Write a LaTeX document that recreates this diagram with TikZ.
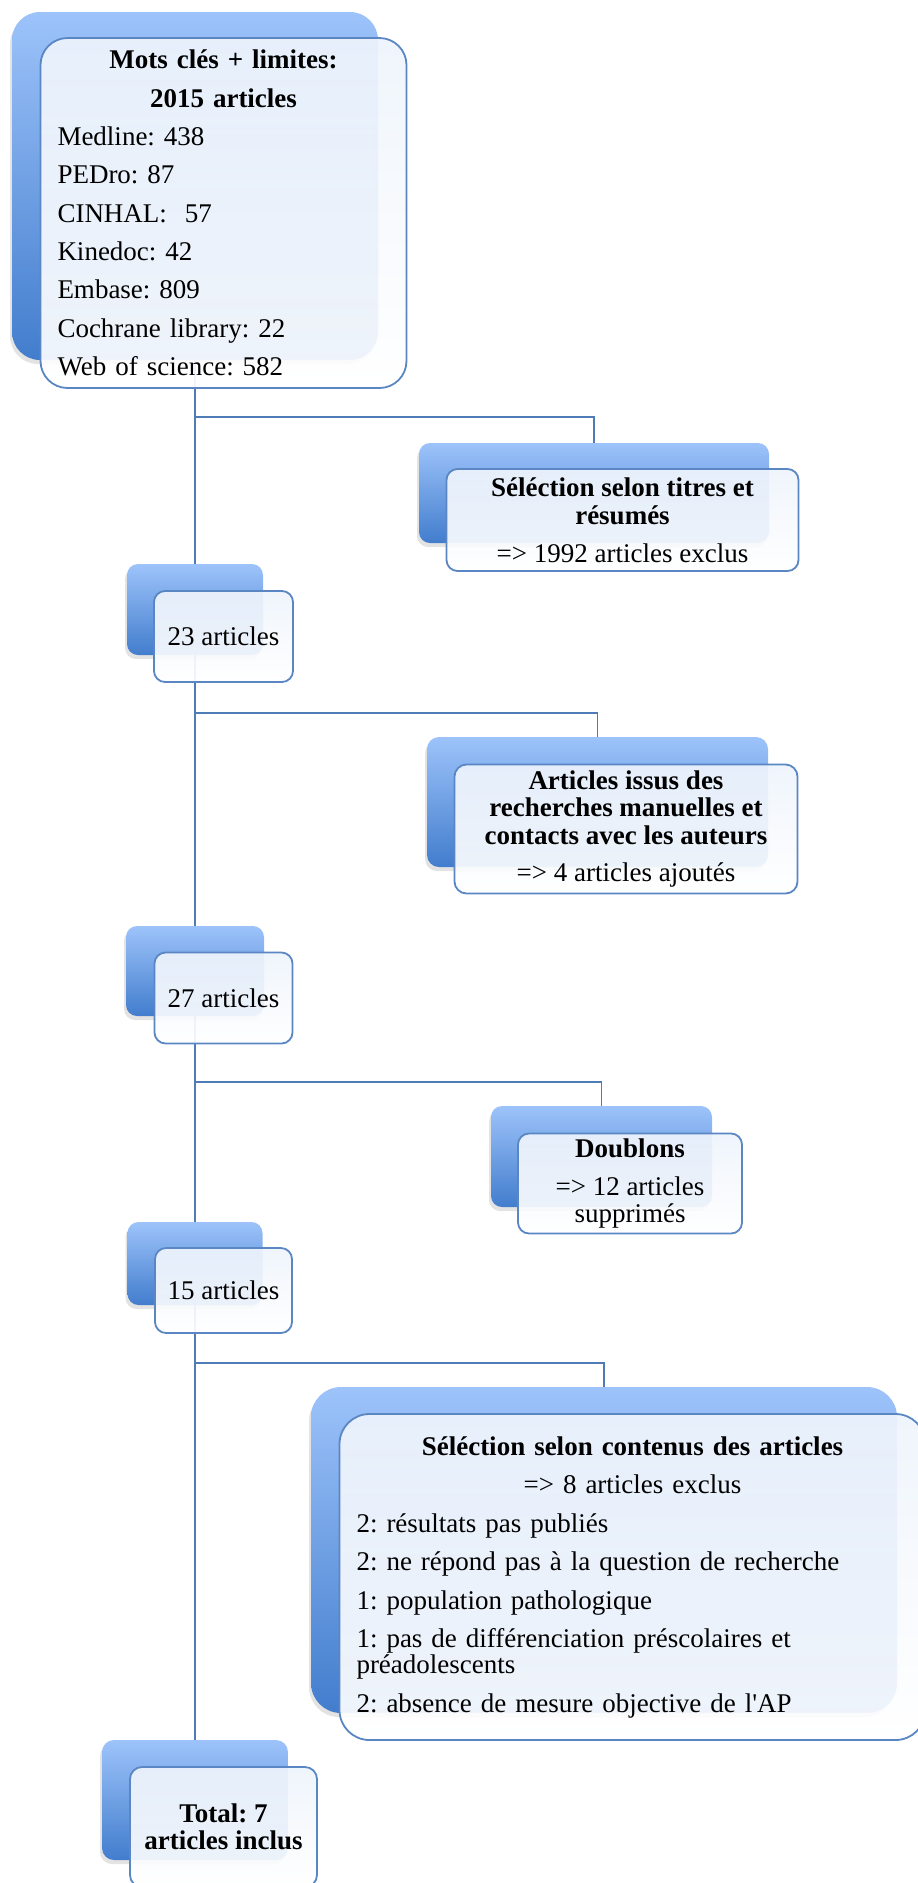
\documentclass[tikz,border=0pt]{standalone}
\usepackage{fontspec}
\setmainfont{Liberation Serif}
\frenchspacing
\usetikzlibrary{positioning, shadows, calc}

\definecolor{bleuclair}{RGB}{157,195,250}
\definecolor{bleufonce}{RGB}{66,125,205}
\definecolor{bordure}{RGB}{90,134,196}
\definecolor{trait}{RGB}{79,123,183}
\definecolor{voile}{RGB}{238,244,252}

\begin{document}
\begin{tikzpicture}[
  x=1pt, y=1pt,
  font=\fontsize{27}{27.5}\selectfont,
  taille/.style 2 args={
    minimum width=#1,
    minimum height=#2
  },
  fond/.style={
    rounded corners=#1,
    top color=bleuclair,
    bottom color=bleufonce,
    inner sep=0pt,
    drop shadow={opacity=0.22, shadow xshift=-2pt, shadow yshift=-4pt}
  },
  carte/.style={
    draw=bordure,
    line width=1.8pt,
    rounded corners=#1,
    top color=voile,
    bottom color=white,
    fill opacity=0.92,
    text opacity=1,
    inner sep=0pt,
    align=center,
    text=black
  },
  lien/.style={
    draw=trait,
    line width=1.9pt
  }
]
  \useasboundingbox (0,0) rectangle (918,-1883);

  \foreach \n/\x/\y/\w/\h/\r in {
    b1/195/-186/366/348/28,
    b2/594/-493/350/100/11,
    b3/195/-609.5/136/91/11,
    b4/597.5/-802/341/130/12,
    b5/195/-971/138/90/11,
    b6/601.5/-1156.5/221/101/11,
    b7/195/-1263.5/135/83/11,
    b8/604/-1550/586/326/30,
    b9/195/-1800/186/120/12} {
    \node[fond=\r pt, taille={\w pt}{\h pt}] (\n) at (\x,\y) {};
  }

  \coordinate (j1) at (195,-417);
  \coordinate (j2) at (195,-713);
  \coordinate (j3) at (195,-1082);
  \coordinate (j4) at (195,-1363);

  \draw[lien] (b1.south) -- (b3.north);
  \draw[lien] (b3.south) -- (b5.north);
  \draw[lien] (b5.south) -- (b7.north);
  \draw[lien] (b7.south) -- (b9.north);
  \draw[lien] (j1) -| (b2.north);
  \draw[lien] (j2) -| (b4.north);
  \draw[lien] (j3) -| (b6.north);
  \draw[lien] (j4) -| (b8.north);

  \node[carte=27pt, taille={366pt}{350pt}, text width=332pt, align=left,
        font=\fontsize{27}{38.3}\selectfont]
    (f1) at ([xshift=28.5pt, yshift=-27pt]b1.center)
    {{\centering\textbf{Mots clés + limites:}\\\textbf{2015 articles}\par}
     Medline: 438\\PEDro: 87\\CINHAL:~ 57\\Kinedoc: 42\\Embase: 809\\
     Cochrane library: 22\\Web of science: 582};

  \node[carte=11pt, taille={352pt}{102pt}]
    (f2) at ([xshift=28.5pt, yshift=-27pt]b2.center)
    {\textbf{Séléction selon titres et}\\\textbf{résumés}\\[10.5pt]
     => 1992 articles exclus};

  \node[carte=11pt, taille={139pt}{91pt}]
    (f3) at ([xshift=28.5pt, yshift=-27pt]b3.center) {23 articles};

  \node[carte=12pt, taille={343pt}{129pt}]
    (f4) at ([xshift=28.5pt, yshift=-27pt]b4.center)
    {\textbf{Articles issus des}\\\textbf{recherches manuelles et}\\
     \textbf{contacts avec les auteurs}\\[10pt]=> 4 articles ajoutés};

  \node[carte=11pt, taille={138pt}{91pt}]
    (f5) at ([xshift=28.5pt, yshift=-27pt]b5.center) {27 articles};

  \node[carte=11pt, taille={224pt}{100pt}]
    (f6) at ([xshift=28.5pt, yshift=-27pt]b6.center)
    {\textbf{Doublons}\\[10.5pt]=> 12 articles\\supprimés};

  \node[carte=11pt, taille={137pt}{85pt}]
    (f7) at ([xshift=28.5pt, yshift=-27pt]b7.center) {15 articles};

  \node[carte=30pt, taille={586pt}{326pt}, text width=552pt, align=left,
        font=\fontsize{27}{38.5}\selectfont]
    (f8) at ([xshift=28.5pt, yshift=-27pt]b8.center)
    {{\centering\textbf{Séléction selon contenus des articles}\\
      => 8 articles exclus\par}
     2: résultats pas publiés\\
     2: ne répond pas à la question de recherche\\
     1: population pathologique\\
     1: pas de différenciation préscolaires et\\[-12.5pt]
     préadolescents\\
     2: absence de mesure objective de l\textquotesingle AP};

  \node[carte=12pt, taille={187pt}{120pt}]
    (f9) at ([xshift=28.5pt, yshift=-27pt]b9.center)
    {\textbf{Total: 7}\\\textbf{articles inclus}};
\end{tikzpicture}
\end{document}
